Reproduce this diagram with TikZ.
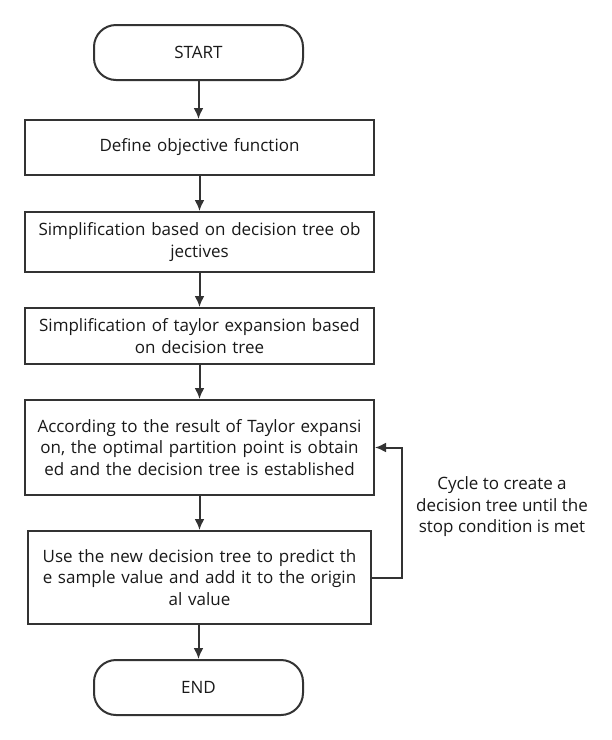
\documentclass[tikz,border=0pt]{standalone}
\usepackage{fontspec}
\setmainfont{Open Sans}
\usepackage{tikz}
\usetikzlibrary{shapes,arrows.meta}
\usetikzlibrary{positioning}
\definecolor{linegray}{HTML}{333333}
\tikzset{auto,>={Latex[length=11pt,width=10pt]}, x=1pt, y=-1pt, font=\fontsize{17}{21.5}\selectfont}
\tikzstyle{block} = [draw=linegray, line width=2pt, fill=white, rectangle, minimum width=349pt, text width=340pt, inner sep=0pt, text centered, align=center, text=black!90]
\tikzstyle{terminal} = [draw=linegray, line width=2pt, fill=white, rectangle, rounded corners=22pt, minimum width=209pt, minimum height=55pt, text centered, text=black!90]
\tikzstyle{line} = [draw=linegray, line width=2pt, ->]

\begin{document}
\begin{tikzpicture}
		\useasboundingbox [fill=white] (0,0) rectangle (612,740);
		\node [terminal] (start) at (198.5,52.5) {START};
		\node [block, minimum height=55pt] (objective) at (199.5,147.5) {Define objective function};
		\node [block, minimum height=60pt] (simplify) at (199.5,242) {Simplification based on decision tree ob\\jectives};
		\node [block, minimum height=56pt] (taylor) at (199.5,336) {Simplification of taylor expansion based\\on decision tree};
		\node [block, minimum height=95pt] (split) at (199.5,447.5) {According to the result of Taylor expansi\\on, the optimal partition point is obtain\\ed and the decision tree is established};
		\node [block, minimum height=93pt, minimum width=343pt] (predict) at (199.5,577.5) {Use the new decision tree to predict th\\e sample value and add it to the origin\\al value};
		\node [terminal] (end) at (198.5,687.5) {END};
		\node [align=center, text=black!90] (looptext) at (502,507) {Cycle to create a\\decision tree until the\\stop condition is met};

		\draw [line] (start) -- (start |- objective.north);
		\draw [line] (objective) -- (simplify);
		\draw [line] (simplify) -- (taylor);
		\draw [line] (taylor) -- (split);
		\draw [line] (split) -- (predict);
		\draw [line] (end |- predict.south) -- (end);
		\draw [line] (predict.east) -- ++(30,0) |- (split.east);
	\end{tikzpicture}
\end{document}
